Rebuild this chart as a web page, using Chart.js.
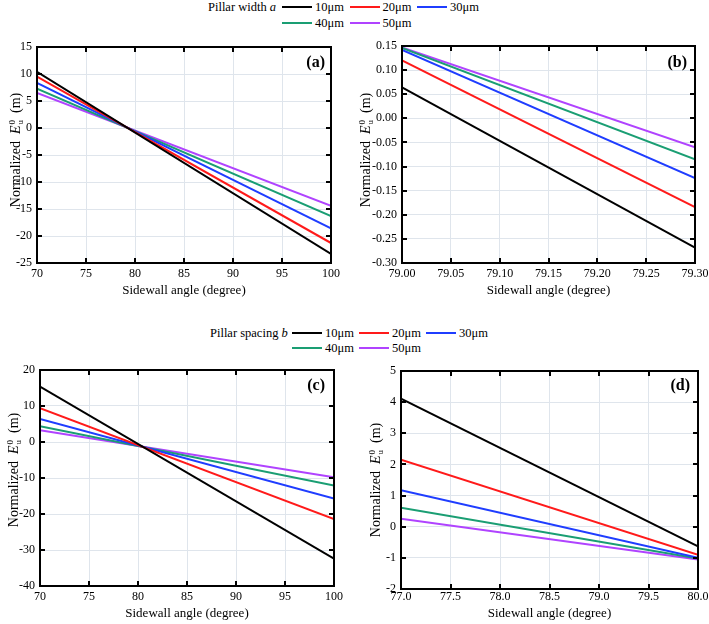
<!DOCTYPE html>
<html><head><meta charset="utf-8">
<script src="https://cdn.jsdelivr.net/npm/chart.js@4.4.1/dist/chart.umd.min.js"></script>
<style>
body{margin:0;background:#fff;width:709px;height:624px;position:relative;overflow:hidden;font-family:'Liberation Serif','Times New Roman',serif;color:#000;}
canvas{position:absolute;}
.lgt,.lgx{position:absolute;font-size:12.5px;line-height:14px;white-space:nowrap;}
.lgl{position:absolute;height:2px;width:30px;}
.plab{position:absolute;font-weight:bold;font-size:16px;line-height:16px;white-space:nowrap;}
.ytw{position:absolute;width:0;height:0;}
.yt{position:absolute;left:0;top:0;transform:translate(-50%,-50%) rotate(-90deg);font-size:14px;line-height:16px;white-space:nowrap;}
.ss{display:inline-block;vertical-align:middle;line-height:8px;font-size:9px;text-align:left;margin-left:1px;position:relative;top:-1px;}
</style></head><body>
<script>
// ---------- data ----------
const seriesLabels = ['10μm','20μm','30μm','40μm','50μm'];
const legendTitleA = 'Pillar width ';
const legendVarA = 'a';
const legendTitleB = 'Pillar spacing ';
const legendVarB = 'b';

const panelA_x  = [70, 100];
const panelA_10 = [10.4, -23.3];
const panelA_20 = [9.5, -21.3];
const panelA_30 = [8.35, -18.6];
const panelA_40 = [7.3, -16.3];
const panelA_50 = [6.5, -14.4];

const panelB_x  = [79.00, 79.30];
const panelB_10 = [0.064, -0.268];
const panelB_20 = [0.120, -0.184];
const panelB_30 = [0.142, -0.124];
const panelB_40 = [0.146, -0.085];
const panelB_50 = [0.147, -0.060];

const panelC_x  = [70, 100];
const panelC_10 = [15.4, -32.4];
const panelC_20 = [9.4, -21.4];
const panelC_30 = [6.4, -15.7];
const panelC_40 = [4.4, -12.1];
const panelC_50 = [3.3, -9.8];

const panelD_x  = [77.0, 80.0];
const panelD_10 = [4.11, -0.63];
const panelD_20 = [2.15, -0.90];
const panelD_30 = [1.17, -1.00];
const panelD_40 = [0.61, -1.02];
const panelD_50 = [0.26, -1.05];

const xTicksA = [70, 75, 80, 85, 90, 95, 100];
const yTicksA = [-25, -20, -15, -10, -5, 0, 5, 10, 15];
const xTicksB = [79.00, 79.05, 79.10, 79.15, 79.20, 79.25, 79.30];
const yTicksB = [-0.30, -0.25, -0.20, -0.15, -0.10, -0.05, 0.00, 0.05, 0.10, 0.15];
const xTicksC = [70, 75, 80, 85, 90, 95, 100];
const yTicksC = [-40, -30, -20, -10, 0, 10, 20];
const xTicksD = [77.0, 77.5, 78.0, 78.5, 79.0, 79.5, 80.0];
const yTicksD = [-2, -1, 0, 1, 2, 3, 4, 5];

const xTitle = 'Sidewall angle (degree)';
const panelLabels = ['(a)', '(b)', '(c)', '(d)'];

// ---------- style / layout ----------
const colors = ['#000000', '#ff1a1a', '#1f3dff', '#1a9e73', '#b043ff'];
const FONT = "'Liberation Serif','Times New Roman',serif";

const framePlugin = {
  id: 'frame',
  afterDatasetsDraw(chart) {
    const {ctx, chartArea: {left, top, right, bottom}, scales: {x, y}} = chart;
    ctx.save();
    ctx.strokeStyle = '#000';
    ctx.lineWidth = 2;
    ctx.beginPath();
    x.ticks.forEach(t => {
      const px = Math.round(x.getPixelForValue(t.value));
      if (px <= left + 1 || px >= right - 1) return;
      ctx.moveTo(px, bottom); ctx.lineTo(px, bottom - 5);
      ctx.moveTo(px, top); ctx.lineTo(px, top + 5);
    });
    y.ticks.forEach(t => {
      const py = Math.round(y.getPixelForValue(t.value));
      if (py <= top + 1 || py >= bottom - 1) return;
      ctx.moveTo(left, py); ctx.lineTo(left + 5, py);
      ctx.moveTo(right, py); ctx.lineTo(right - 5, py);
    });
    ctx.stroke();
    ctx.strokeRect(left, top, right - left, bottom - top);
    ctx.restore();
  }
};

function makePanel(box, xs, series, xTicks, yTicks, xDec, yDec) {
  const cv = document.createElement('canvas');
  cv.width = box.W; cv.height = box.H;
  cv.style.left = box.L + 'px'; cv.style.top = box.T + 'px';
  cv.style.width = box.W + 'px'; cv.style.height = box.H + 'px';
  document.body.appendChild(cv);
  const datasets = series.map((vals, i) => ({
    label: seriesLabels[i],
    data: vals.map((v, k) => ({x: xs[k], y: v})),
    borderColor: colors[i],
    borderWidth: 2,
    pointRadius: 0,
    fill: false,
    tension: 0
  }));
  new Chart(cv, {
    type: 'line',
    data: {datasets},
    options: {
      responsive: false,
      animation: false,
      devicePixelRatio: 1,
      layout: {padding: {left: 0, top: box.pt, right: box.pr, bottom: 0}},
      plugins: {legend: {display: false}, tooltip: {enabled: false}},
      scales: {
        x: {
          type: 'linear',
          min: xTicks[0], max: xTicks[xTicks.length - 1],
          afterBuildTicks: s => { s.ticks = xTicks.map(v => ({value: v})); },
          afterFit: s => { s.height = box.xh; s.paddingLeft = 0; s.paddingRight = 0; },
          ticks: {
            color: '#000', font: {family: FONT, size: 12}, padding: box.xp,
            maxRotation: 0, autoSkip: false,
            callback: v => Number(v).toFixed(xDec)
          },
          grid: {color: '#dfe5ec', lineWidth: 1, drawTicks: false},
          border: {display: false},
          title: {display: true, text: xTitle, color: '#000', font: {family: FONT, size: 13}, padding: {top: 0, bottom: 0}}
        },
        y: {
          type: 'linear',
          min: yTicks[0], max: yTicks[yTicks.length - 1],
          afterBuildTicks: s => { s.ticks = yTicks.map(v => ({value: v})); },
          afterFit: s => { s.width = box.yw; s.paddingTop = 0; s.paddingBottom = 0; },
          ticks: {
            color: '#000', font: {family: FONT, size: 12}, padding: 5,
            autoSkip: false,
            callback: v => Number(v).toFixed(yDec)
          },
          grid: {color: '#dfe5ec', lineWidth: 1, drawTicks: false},
          border: {display: false}
        }
      }
    },
    plugins: [framePlugin]
  });
}

function addYTitle(cx, cy) {
  const w = document.createElement('div');
  w.className = 'ytw';
  w.style.left = cx + 'px'; w.style.top = cy + 'px';
  w.innerHTML = '<div class="yt">Normalized&nbsp;&nbsp;<i>E</i><span class="ss">0<br>u</span>&nbsp;&nbsp;(m)</div>';
  document.body.appendChild(w);
}

function addPanelLabel(text, right, cy) {
  const d = document.createElement('div');
  d.className = 'plab';
  d.textContent = text;
  d.style.right = (709 - right) + 'px';
  d.style.top = (cy - 8) + 'px';
  document.body.appendChild(d);
}

function addLegend(titleText, varText, titleX, lineX, rowY, colStep, rowStep) {
  const t = document.createElement('div');
  t.className = 'lgt';
  t.innerHTML = titleText + '<i>' + varText + '</i>';
  t.style.left = titleX + 'px';
  t.style.top = (rowY - 7) + 'px';
  document.body.appendChild(t);
  seriesLabels.forEach((lab, i) => {
    const col = i % 3, row = Math.floor(i / 3);
    const lx = lineX + col * colStep, ly = rowY + row * rowStep;
    const l = document.createElement('div');
    l.className = 'lgl';
    l.style.background = colors[i];
    l.style.left = lx + 'px'; l.style.top = (ly - 1) + 'px';
    document.body.appendChild(l);
    const x = document.createElement('div');
    x.className = 'lgx';
    x.textContent = lab;
    x.style.left = (lx + 33) + 'px'; x.style.top = (ly - 7) + 'px';
    document.body.appendChild(x);
  });
}

// legends
addLegend(legendTitleA, legendVarA, 208, 282, 7, 67.5, 16);
addLegend(legendTitleB, legendVarB, 210, 292, 333, 67, 15);

// panels
makePanel({L: 0, T: 37, W: 345, H: 261, pt: 10, pr: 14, yw: 37, xh: 35, xp: 4},
  panelA_x, [panelA_10, panelA_20, panelA_30, panelA_40, panelA_50], xTicksA, yTicksA, 0, 0);
makePanel({L: 355, T: 36, W: 354, H: 262, pt: 10, pr: 14, yw: 47, xh: 35, xp: 4},
  panelB_x, [panelB_10, panelB_20, panelB_30, panelB_40, panelB_50], xTicksB, yTicksB, 2, 2);
makePanel({L: 0, T: 360, W: 348, H: 261, pt: 10, pr: 14, yw: 40, xh: 35, xp: 4},
  panelC_x, [panelC_10, panelC_20, panelC_30, panelC_40, panelC_50], xTicksC, yTicksC, 0, 0);
makePanel({L: 355, T: 361, W: 354, H: 260, pt: 10, pr: 11, yw: 46, xh: 32, xp: 1},
  panelD_x, [panelD_10, panelD_20, panelD_30, panelD_40, panelD_50], xTicksD, yTicksD, 1, 0);

addYTitle(16, 150);
addYTitle(366, 150);
addYTitle(14, 470);
addYTitle(376, 480);

addPanelLabel(panelLabels[0], 325, 62);
addPanelLabel(panelLabels[1], 687, 62);
addPanelLabel(panelLabels[2], 325, 385);
addPanelLabel(panelLabels[3], 690, 385);
</script>
</body></html>
